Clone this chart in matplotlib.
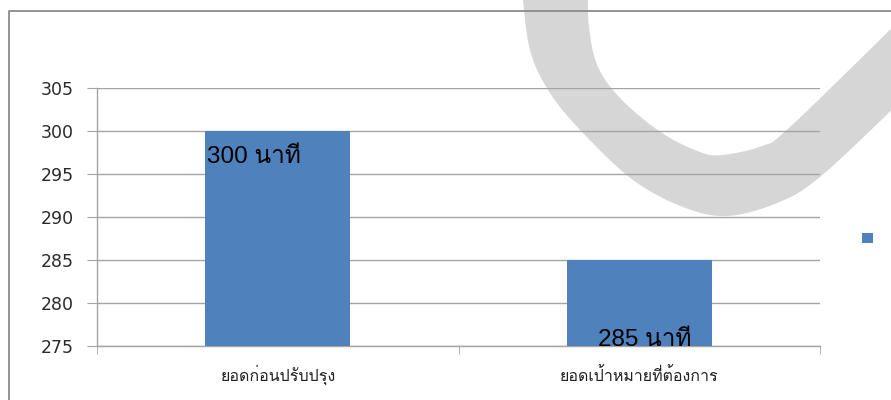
import numpy as np
import matplotlib
matplotlib.use('Agg')
import matplotlib.pyplot as plt
from matplotlib import font_manager
from matplotlib.ft2font import FT2Font
from matplotlib.patches import Polygon
from matplotlib.lines import Line2D

CATEGORIES = ['ยอดก่อนปรับปรุง', 'ยอดเป้าหมายที่ต้องการ']
VALUES = [300, 285]
LABELS = ['300 นาที', '285 นาที']
Y_TICKS = [275, 280, 285, 290, 295, 300, 305]

W, H = 891, 400


def find_thai_font():
    # first installed family that actually has Thai glyphs
    for f in font_manager.fontManager.ttflist:
        try:
            if ord('น') in FT2Font(f.fname).get_charmap():
                return f.name
        except Exception:
            continue
    return None


thai = find_thai_font()
fams = ['DejaVu Sans'] + ([thai] if thai else [])
label_fams = ['Liberation Sans'] + ([thai] if thai else [])
plt.rcParams['font.family'] = fams

fig = plt.figure(figsize=(W / 100, H / 100), dpi=100)
fig.patch.set_facecolor('white')


def px(x, y):
    return (x / W, 1 - y / H)


def catmull(pts, n=12):
    pts = np.asarray(pts, float)
    p = np.vstack([pts[0], pts, pts[-1]])
    out = []
    for i in range(1, len(p) - 2):
        p0, p1, p2, p3 = p[i - 1], p[i], p[i + 1], p[i + 2]
        for t in np.linspace(0, 1, n, endpoint=False):
            t2, t3 = t * t, t * t * t
            out.append(0.5 * (2 * p1 + (-p0 + p2) * t + (2 * p0 - 5 * p1 + 4 * p2 - p3) * t2
                              + (-p0 + 3 * p1 - 3 * p2 + p3) * t3))
    out.append(pts[-1])
    return np.array(out)


# grey swoosh in the background
outer = [(522, -10), (530, 50), (550, 93), (583, 133), (633, 180), (683, 207),
         (727, 216), (777, 203), (820, 177), (900, 102)]
inner = [(900, 20), (790, 127), (762, 146), (722, 155), (700, 152), (662, 133),
         (622, 100), (598, 67), (589, 27), (588, -10)]
shape = np.vstack([catmull(outer), catmull(inner)])
shape = np.array([px(x, y) for x, y in shape])
fig.patches.append(Polygon(shape, closed=True, transform=fig.transFigure,
                           facecolor='#d6d6d6', edgecolor='none', zorder=-1))

# outer frame
fig.add_artist(Line2D([9 / W, 9 / W, 1], [0, 1 - 11 / H, 1 - 11 / H],
                      transform=fig.transFigure, color='#8a8a8a', lw=1.3))

ax = fig.add_axes([97 / W, 54 / H, (820 - 97) / W, (346 - 88) / H])
ax.set_facecolor('none')

x = np.arange(len(CATEGORIES))
bars = ax.bar(x, VALUES, width=0.4, color='#4F81BD', zorder=3)

ax.set_xlim(-0.5, len(CATEGORIES) - 0.5)
ax.set_ylim(Y_TICKS[0], Y_TICKS[-1])
ax.set_yticks(Y_TICKS)
ax.yaxis.grid(True, color='#a4a4a4', lw=1.0, zorder=1)
ax.set_axisbelow(True)

ax.set_xticks(x)
ax.set_xticklabels(CATEGORIES, fontsize=11.5, family=label_fams, color='#222222')
for lbl in ax.get_xticklabels():
    lbl.set_verticalalignment('baseline')
ax.set_xticks(np.arange(-0.5, len(CATEGORIES)), minor=True)
ax.tick_params(axis='x', which='major', length=0, pad=25)
ax.tick_params(axis='x', which='minor', length=6, color='#a4a4a4', direction='out')
ax.tick_params(axis='y', length=7, color='#a4a4a4', labelsize=12.5, pad=10,
               labelcolor='#2a2a2a')

for s in ['top', 'right']:
    ax.spines[s].set_visible(False)
for s in ['left', 'bottom']:
    ax.spines[s].set_color('#a4a4a4')
    ax.spines[s].set_linewidth(1.0)

# value labels, placed by hand inside the bars
ax.annotate(LABELS[0], xy=(x[0] - 0.2, VALUES[0]), xytext=(2, -32),
            textcoords='offset pixels', ha='left', va='baseline',
            fontsize=17.5, family=label_fams, color='black', zorder=5)
ax.annotate(LABELS[1], xy=(x[1], Y_TICKS[0]), xytext=(5, 0),
            textcoords='offset pixels', ha='center', va='baseline',
            fontsize=17.5, family=label_fams, color='black', zorder=5,
            annotation_clip=False)

leg = ax.legend([bars], [' '], loc='center left',
                bbox_to_anchor=(862 / W, 1 - 238 / H), bbox_transform=fig.transFigure,
                frameon=False, fontsize=8, handlelength=1.0, handleheight=1.0,
                borderpad=0, borderaxespad=0, handletextpad=0.2)

fig.savefig('out.png', dpi=100, facecolor='white')
